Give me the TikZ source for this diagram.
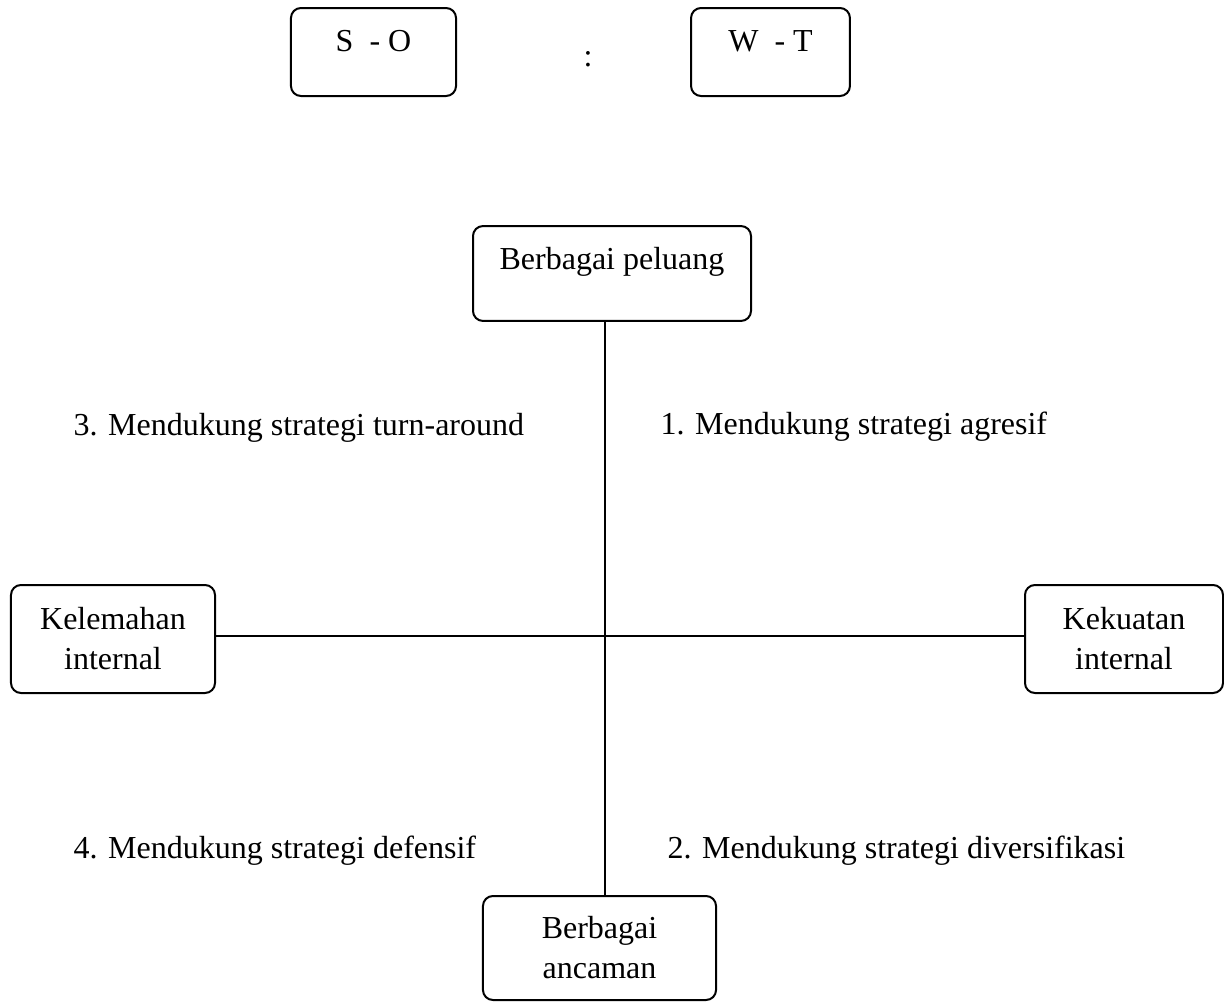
\documentclass[tikz,border=0pt]{standalone}
\usepackage{fontspec}
\setmainfont{Liberation Serif}

\begin{document}
\begin{tikzpicture}[
    x=0.375pt, y=-0.375pt,
    every node/.style={font=\fontsize{12}{15}\selectfont, inner sep=0pt, align=center},
    kotak/.style={draw, rounded corners=3.75pt, line width=0.75pt},
    garis/.style={line width=0.55pt},
    teks/.style={anchor=base west}
]
\useasboundingbox (0,0) rectangle (1224,1003);
\node (so) [kotak, minimum width=61.9pt, minimum height=33pt, text height=8.25pt, text depth=8.25pt] at (373.5,52) {S\ \ - O};
\node (titikdua) [anchor=base] at (588,66) {:};
\node (wt) [kotak, minimum width=59.6pt, minimum height=33pt, text height=8.25pt, text depth=8.25pt] at (770.5,52) {W\ \ - T};
\node (peluang) [kotak, minimum width=104.25pt, minimum height=35.6pt, text height=8.25pt, text depth=10.9pt] at (612,273.5) {Berbagai peluang};
\node (kelemahan) [kotak, minimum width=76.5pt, minimum height=40.5pt] at (113,639) {Kelemahan\\internal};
\node (kekuatan) [kotak, minimum width=74.25pt, minimum height=40.5pt] at (1124,639) {Kekuatan\\internal};
\node (ancaman) [kotak, minimum width=87.4pt, minimum height=39pt] at (599.5,948) {Berbagai\\ancaman};
\node (turnaround) [teks] at (73,435) {3. Mendukung strategi turn-around};
\node (agresif) [teks] at (660,434) {1. Mendukung strategi agresif};
\node (defensif) [teks] at (73,858) {4. Mendukung strategi defensif};
\node (diversifikasi) [teks] at (667,858) {2. Mendukung strategi diversifikasi};
\coordinate (pusat) at (605,636);
\draw[garis] (peluang.south -| pusat) -- (ancaman.north -| pusat);
\draw[garis] (kelemahan.east |- pusat) -- (kekuatan.west |- pusat);
\end{tikzpicture}
\end{document}
